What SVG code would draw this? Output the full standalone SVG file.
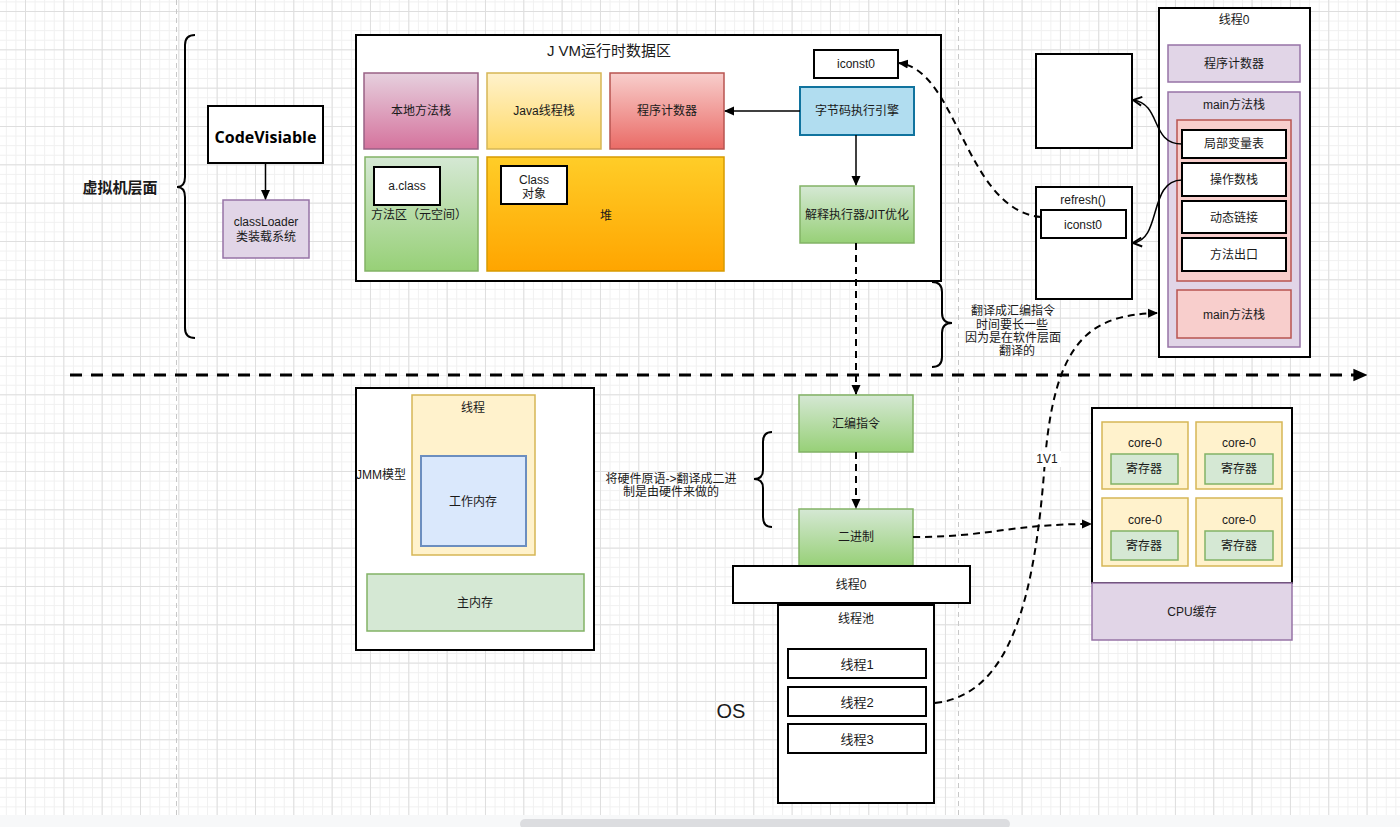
<svg xmlns="http://www.w3.org/2000/svg" width="1400" height="827" viewBox="0 0 1400 827">
<defs>
<pattern id="minor" x="25" y="11" width="9.583" height="9.583" patternUnits="userSpaceOnUse">
<path d="M0,0.5 H9.583 M0.5,0 V9.583" stroke="#f0f0f0" stroke-width="1" fill="none"/>
</pattern>
<pattern id="major" x="25" y="11" width="38.33" height="38.33" patternUnits="userSpaceOnUse">
<path d="M0,0.5 H38.33 M0.5,0 V38.33" stroke="#dedede" stroke-width="1" fill="none"/>
</pattern>
<linearGradient id="gPink" x1="0" y1="0" x2="0" y2="1"><stop offset="0" stop-color="#e6d0de"/><stop offset="1" stop-color="#d5739d"/></linearGradient>
<linearGradient id="gYellow" x1="0" y1="0" x2="0" y2="1"><stop offset="0" stop-color="#fff2cc"/><stop offset="1" stop-color="#ffd966"/></linearGradient>
<linearGradient id="gRed" x1="0" y1="0" x2="0" y2="1"><stop offset="0" stop-color="#f8cecc"/><stop offset="1" stop-color="#ea6b66"/></linearGradient>
<linearGradient id="gGreen" x1="0" y1="0" x2="0" y2="1"><stop offset="0" stop-color="#d5e8d4"/><stop offset="1" stop-color="#97d077"/></linearGradient>
<linearGradient id="gOrange" x1="0" y1="0" x2="0" y2="1"><stop offset="0" stop-color="#ffcd28"/><stop offset="1" stop-color="#ffa500"/></linearGradient>
<marker id="arr" viewBox="0 0 10 10" refX="9" refY="5" markerWidth="10" markerHeight="10" markerUnits="userSpaceOnUse" orient="auto">
<path d="M0,0.5 L10,5 L0,9.5 Z" fill="#000"/>
</marker>
<marker id="arrBig" viewBox="0 0 10 10" refX="9" refY="5" markerWidth="14" markerHeight="14" markerUnits="userSpaceOnUse" orient="auto">
<path d="M0,0.5 L10,5 L0,9.5 Z" fill="#000"/>
</marker>
<marker id="open" viewBox="0 0 10 10" refX="9" refY="5" markerWidth="11" markerHeight="11" markerUnits="userSpaceOnUse" orient="auto">
<path d="M1,1 L9,5 L1,9" fill="none" stroke="#000" stroke-width="1.8"/>
</marker>
</defs>
<style>
text{font-family:"Liberation Sans","Noto Sans CJK SC",sans-serif;font-size:12px;fill:#1a1a1a;text-anchor:middle;dominant-baseline:central}
.blk{fill:#fff;stroke:#000;stroke-width:2}
.pur{fill:#e1d5e7;stroke:#9673a6;stroke-width:1.5}
.grn{fill:url(#gGreen);stroke:#82b366;stroke-width:1.5}
.lgrn{fill:#d5e8d4;stroke:#82b366;stroke-width:1.5}
.core{fill:#fff2cc;stroke:#d6b656;stroke-width:1.5}
.ln{fill:none;stroke:#000;stroke-width:1.5}
.dash{fill:none;stroke:#000;stroke-width:2;stroke-dasharray:7 5}
.brace{fill:none;stroke:#000;stroke-width:2}
</style>
<rect width="1400" height="827" fill="#fff"/>
<rect width="1400" height="815" fill="url(#minor)"/>
<rect width="1400" height="815" fill="url(#major)"/>
<path d="M176.5,0 V815 M958.5,0 V815" stroke="#c8c8c8" stroke-width="1" stroke-dasharray="5 4"/>

<g id="vm-label">
<path class="brace" d="M195,35 Q185,35 185,45 L185,177 Q185,187 177,187 Q185,187 185,197 L185,328 Q185,338 195,338"/>
<text x="120" y="187" style="font-size:15px;font-weight:bold">虚拟机层面</text>
</g>

<g id="codevisiable">
<rect class="blk" x="208" y="106" width="115" height="57"/>
<text x="265.5" y="137" style="font-size:16px;font-weight:bold;font-family:'Open Sans','Liberation Sans',sans-serif;fill:#000">CodeVisiable</text>
</g>
<g id="classloader">
<rect class="pur" x="223" y="200" width="86" height="58"/>
<text x="266" y="222">classLoader</text>
<text x="266" y="237">类装载系统</text>
</g>

<g id="jvm">
<rect class="blk" x="356" y="35" width="585" height="246"/>
<text x="609" y="50" style="font-size:15px">J VM运行时数据区</text>
</g>
<g id="native-stack">
<rect x="364" y="73" width="114" height="76" fill="url(#gPink)" stroke="#996185" stroke-width="1.5"/>
<text x="421" y="111">本地方法栈</text>
</g>
<g id="java-stack">
<rect x="487" y="73" width="114" height="76" fill="url(#gYellow)" stroke="#d6b656" stroke-width="1.5"/>
<text x="544" y="111">Java线程栈</text>
</g>
<g id="pc">
<rect x="610" y="73" width="114" height="76" fill="url(#gRed)" stroke="#b85450" stroke-width="1.5"/>
<text x="667" y="111">程序计数器</text>
</g>
<g id="method-area">
<rect class="grn" x="365" y="157" width="113" height="114"/>
<rect class="blk" x="374" y="167" width="66" height="38"/>
<text x="407" y="186">a.class</text>
<text x="419" y="215">方法区（元空间）</text>
</g>
<g id="heap">
<rect x="487" y="157" width="237" height="114" fill="url(#gOrange)" stroke="#d79b00" stroke-width="1.5"/>
<rect class="blk" x="501" y="166" width="66" height="38"/>
<text x="534" y="180">Class</text>
<text x="534" y="194">对象</text>
<text x="606" y="216">堆</text>
</g>
<g id="iconst0-top">
<rect class="blk" x="814" y="50" width="84" height="28"/>
<text x="856" y="64">iconst0</text>
</g>
<g id="engine">
<rect x="800" y="87" width="114" height="48" fill="#b1ddf0" stroke="#10739e" stroke-width="2"/>
<text x="857" y="111">字节码执行引擎</text>
</g>
<g id="interpreter">
<rect class="grn" x="800" y="186" width="114" height="57"/>
<text x="857" y="215">解释执行器/JIT优化</text>
</g>

<g id="asm-note">
<path class="brace" d="M932,282 Q942,282 942,292 L942,313 Q942,323 952,323 Q942,323 942,333 L942,357 Q942,367 932,367"/>
<text x="1013" y="311">翻译成汇编指令</text>
<text x="1012" y="324.5">时间要长一些</text>
<text x="1013" y="338">因为是在软件层面</text>
<text x="1017" y="351">翻译的</text>
</g>

<g id="empty-frame">
<rect class="blk" x="1036" y="54" width="96" height="94"/>
</g>
<g id="refresh">
<rect class="blk" x="1036" y="187" width="96" height="112"/>
<text x="1083" y="200">refresh()</text>
<rect class="blk" x="1041" y="210" width="85" height="28"/>
<text x="1083" y="225">iconst0</text>
</g>

<g id="thread0-top">
<rect class="blk" x="1159" y="8" width="151" height="349"/>
<text x="1234" y="20">线程0</text>
<rect class="pur" x="1168" y="45" width="132" height="37"/>
<text x="1234" y="64">程序计数器</text>
<rect class="pur" x="1168" y="92" width="132" height="255"/>
<text x="1234" y="105">main方法栈</text>
<rect x="1177" y="120" width="114" height="161" fill="#f8cecc" stroke="#b85450" stroke-width="1.5"/>
<rect class="blk" x="1182" y="130" width="104" height="28"/>
<text x="1234" y="144">局部变量表</text>
<rect class="blk" x="1182" y="163" width="104" height="33"/>
<text x="1234" y="180">操作数栈</text>
<rect class="blk" x="1182" y="201" width="104" height="32"/>
<text x="1234" y="218">动态链接</text>
<rect class="blk" x="1182" y="238" width="104" height="33"/>
<text x="1234" y="255">方法出口</text>
<rect x="1177" y="290" width="114" height="48" fill="#f8cecc" stroke="#b85450" stroke-width="1.5"/>
<text x="1234" y="315">main方法栈</text>
</g>

<g id="jmm">
<rect class="blk" x="356" y="388" width="238" height="262"/>
<text x="381" y="475">JMM模型</text>
<rect x="412" y="395" width="123" height="160" fill="#fff2cc" stroke="#d6b656" stroke-width="1.5"/>
<text x="473" y="408">线程</text>
<rect x="421" y="456" width="105" height="90" fill="#dae8fc" stroke="#6c8ebf" stroke-width="2"/>
<text x="473" y="502">工作内存</text>
<rect class="lgrn" x="367" y="574" width="217" height="57"/>
<text x="475" y="603">主内存</text>
</g>

<g id="hw-note">
<path class="brace" d="M772,432 Q763,432 763,442 L763,470 Q763,479 754,479 Q763,479 763,488 L763,517 Q763,527 772,527"/>
<text x="671" y="479">将硬件原语-&gt;翻译成二进</text>
<text x="671" y="492">制是由硬件来做的</text>
</g>

<g id="asm">
<rect class="grn" x="799" y="395" width="114" height="57"/>
<text x="856" y="424">汇编指令</text>
</g>
<g id="binary">
<rect class="grn" x="799" y="509" width="114" height="57"/>
<text x="856" y="537">二进制</text>
</g>
<g id="thread0-os">
<rect class="blk" x="733" y="566" width="237" height="37"/>
<text x="851" y="585">线程0</text>
</g>
<g id="threadpool">
<rect class="blk" x="778" y="605" width="156" height="198"/>
<text x="856" y="619">线程池</text>
<rect class="blk" x="788" y="649" width="138" height="29"/>
<text x="857" y="664" style="font-size:13px">线程1</text>
<rect class="blk" x="788" y="687" width="138" height="29"/>
<text x="857" y="702" style="font-size:13px">线程2</text>
<rect class="blk" x="788" y="724" width="138" height="29"/>
<text x="857" y="739" style="font-size:13px">线程3</text>
</g>
<g id="os-label">
<text x="731" y="711" style="font-size:20px">OS</text>
</g>

<g id="cpu">
<rect class="blk" x="1092" y="408" width="200" height="175"/>
<rect class="core" x="1102" y="422" width="86" height="67"/>
<text x="1145" y="443">core-0</text>
<rect class="lgrn" x="1111" y="454" width="67" height="30"/>
<text x="1144" y="469">寄存器</text>
<rect class="core" x="1196" y="422" width="86" height="67"/>
<text x="1239" y="443">core-0</text>
<rect class="lgrn" x="1205" y="454" width="68" height="30"/>
<text x="1239" y="469">寄存器</text>
<rect class="core" x="1102" y="498" width="86" height="68"/>
<text x="1145" y="520">core-0</text>
<rect class="lgrn" x="1111" y="531" width="67" height="29"/>
<text x="1144" y="546">寄存器</text>
<rect class="core" x="1196" y="498" width="86" height="68"/>
<text x="1239" y="520">core-0</text>
<rect class="lgrn" x="1205" y="531" width="68" height="29"/>
<text x="1239" y="546">寄存器</text>
<rect class="pur" x="1092" y="583" width="200" height="57"/>
<text x="1192" y="612">CPU缓存</text>
</g>

<g id="connectors">
<path class="ln" d="M265.5,163 V199" stroke-width="2" marker-end="url(#arr)"/>
<path class="ln" d="M800,111 H725" marker-end="url(#arr)"/>
<path class="ln" d="M856,135 V185" marker-end="url(#arr)"/>
<path class="dash" d="M1041,217 C965,210 958,70 899,63" marker-end="url(#arr)"/>
<path class="dash" d="M856,243 V394" marker-end="url(#arr)"/>
<path class="dash" d="M856,452 V508" marker-end="url(#arr)"/>
<path class="ln" stroke-width="2" d="M1182,144 C1150,144 1162,104 1133,100" marker-end="url(#open)"/>
<path class="ln" stroke-width="2" d="M1182,180 C1148,180 1162,240 1133,243" marker-end="url(#open)"/>
<path d="M70,375 H1366" fill="none" stroke="#000" stroke-width="3" stroke-dasharray="12 9" marker-end="url(#arrBig)"/>
<path class="dash" d="M913,537 C990,537 1010,524 1091,524" marker-end="url(#arr)"/>
<path class="dash" d="M935,703 C1010,695 1035,600 1045,460 C1055,340 1090,315 1157,313" marker-end="url(#arr)"/>
<rect x="1034" y="451" width="27" height="16" fill="#fff"/>
<text x="1047" y="459">1V1</text>
</g>

<g id="scrollbar">
<rect x="0" y="815" width="1400" height="12" fill="#f7f8f9"/>
<rect x="520" y="819" width="490" height="10" rx="5" fill="#dcdde0"/>
</g>
</svg>
